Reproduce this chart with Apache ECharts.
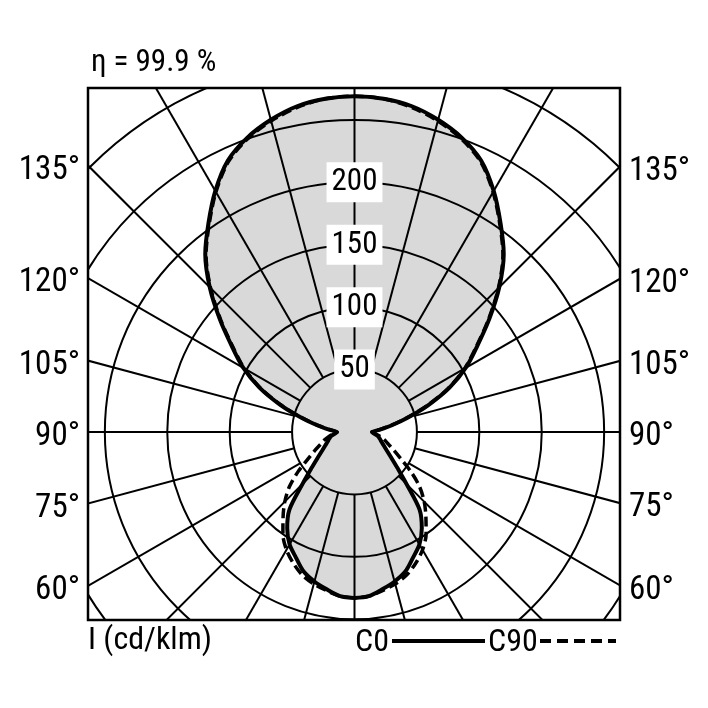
<!DOCTYPE html>
<html><head><meta charset="utf-8">
<script src="https://cdn.jsdelivr.net/npm/echarts@6/dist/echarts.min.js"></script>
<style>html,body{margin:0;padding:0;background:#fff}#c{width:708px;height:708px}</style>
</head><body><div id="c"></div>
<script>
// ---- data (luminous intensity, cd/klm, gamma measured from nadir) ----
const gammaDeg = [0,5,10,15,20,25,30,35,40,45,50,55,60,65,70,75,80,85,90,95,100,105,110,115,120,125,130,135,140,145,150,155,160,165,170,175,180];
const c0Values  = [133,132,128,124,119,111,104,94,81,59,45,36,30,26,23,21,19,16,14,20,30,44,63,84,103,120,141,164,186,204,223,240,251,259,265,268,269];
const c90Values = [133,132,129,126,122,116,109,100,89,79,68,55,43,35,29,25,21,17,14,19,29,43,62,83,102,119,140,163,185,203,222,239,250,258,264,268,269];
const radialTicks = [50,100,150,200];
const gridCircles = [50,100,150,200,250,300,350,400,450];
const angleTickLabels = [60,75,90,105,120,135];
const efficiencyText = 'η = 99.9 %';
const unitText = 'I (cd/klm)';
const legendNames = ['C0','C90'];

const FONT = "'Liberation Sans Narrow','Roboto Condensed','DejaVu Sans Condensed','Arial Narrow',sans-serif";
const X_MIN = -213.5, X_MAX = 212.7, Y_MIN = -150.6, Y_MAX = 275.6;

function toXY(r, g, side) {
  const a = g * Math.PI / 180;
  return [side * r * Math.sin(a), -r * Math.cos(a)];
}
function loop(vals) {
  const pts = [];
  for (let i = 0; i < gammaDeg.length; i++) pts.push(toXY(vals[i], gammaDeg[i], -1));
  for (let i = gammaDeg.length - 2; i >= 0; i--) pts.push(toXY(vals[i], gammaDeg[i], 1));
  return pts;
}
const c0Loop = loop(c0Values);
const c90Loop = loop(c90Values);

const chart = echarts.init(document.getElementById('c'), null, {renderer: 'canvas'});
chart.setOption({
  animation: false,
  backgroundColor: '#fff',
  title: {
    text: efficiencyText, left: 86, top: 43,
    textStyle: {fontFamily: FONT, fontSize: 31, fontWeight: 'normal', color: '#000'}
  },
  grid: {left: 88, top: 88, width: 532, height: 532, show: true, borderColor: '#000', borderWidth: 2.5, backgroundColor: '#fff'},
  xAxis: {type: 'value', min: X_MIN, max: X_MAX, show: false},
  yAxis: {type: 'value', min: Y_MIN, max: Y_MAX, show: false},
  graphic: [
    {type: 'text', left: 88, top: 625, style: {text: unitText, fontFamily: FONT, fontSize: 32, fill: '#000'}},
    {type: 'text', x: 355, y: 643, style: {text: legendNames[0], fontFamily: FONT, fontSize: 32, fill: '#000', verticalAlign: 'middle', align: 'left'}},
    {type: 'line', shape: {x1: 392, y1: 641, x2: 485, y2: 641}, style: {stroke: '#000', lineWidth: 4}},
    {type: 'text', x: 488, y: 643, style: {text: legendNames[1], fontFamily: FONT, fontSize: 32, fill: '#000', verticalAlign: 'middle', align: 'left'}},
    {type: 'line', shape: {x1: 540, y1: 641, x2: 616, y2: 641}, style: {stroke: '#000', lineWidth: 4, lineDash: [11, 6]}}
  ],
  series: [
    { // fill of C0
      type: 'custom', z: 1, clip: true, data: [[0, 0]],
      renderItem: function (params, api) {
        return {type: 'polygon', shape: {points: c0Loop.map(p => api.coord(p)), smooth: 0.3},
                style: {fill: '#d9d9d9', stroke: 'none'}};
      }
    },
    { // polar grid
      type: 'custom', z: 2, clip: true, data: [[0, 0]],
      renderItem: function (params, api) {
        const c = api.coord([0, 0]);
        const children = [];
        gridCircles.forEach(R => {
          const p = api.coord([R, 0]);
          children.push({type: 'circle', shape: {cx: c[0], cy: c[1], r: p[0] - c[0]},
                         style: {fill: 'none', stroke: '#000', lineWidth: 2}});
        });
        for (let g = 0; g < 360; g += 15) {
          const p1 = api.coord(toXY(50, g, 1));
          const p2 = api.coord(toXY(700, g, 1));
          children.push({type: 'line', shape: {x1: p1[0], y1: p1[1], x2: p2[0], y2: p2[1]},
                         style: {stroke: '#000', lineWidth: 2}});
        }
        return {type: 'group', children: children};
      }
    },
    {
      name: legendNames[0], type: 'line', z: 3, data: c0Loop, smooth: 0.3, symbol: 'none',
      lineStyle: {color: '#000', width: 4}
    },
    {
      name: legendNames[1], type: 'line', z: 3, data: c90Loop, smooth: 0.3, symbol: 'none',
      lineStyle: {color: '#000', width: 3.5, type: [10, 5]}
    },
    { // radial value labels
      type: 'scatter', z: 4, symbolSize: 1, itemStyle: {color: 'rgba(0,0,0,0)', opacity: 1},
      data: radialTicks.map(v => [0, v]),
      label: {show: true, position: 'inside', formatter: p => String(p.value[1]),
              fontFamily: FONT, fontSize: 31, color: '#000', backgroundColor: '#fff',
              padding: [5, 5, 4, 5], lineHeight: 31, opacity: 1}
    },
    { // angle labels at the frame
      type: 'custom', z: 5, clip: false, data: [[0, 0]],
      renderItem: function (params, api) {
        const children = [];
        angleTickLabels.forEach(g => {
          const a = g * Math.PI / 180;
          const yl = Math.cos(a) * X_MIN / Math.sin(a);
          const yr = -Math.cos(a) * X_MAX / Math.sin(a);
          const pl = api.coord([X_MIN, yl]);
          const pr = api.coord([X_MAX, yr]);
          children.push({type: 'text', x: pl[0] - 8, y: pl[1] + 5,
            style: {text: g + '°', fontFamily: FONT, fontSize: 33, fill: '#000', align: 'right', verticalAlign: 'middle'}});
          children.push({type: 'text', x: pr[0] + 9, y: pr[1] + 5,
            style: {text: g + '°', fontFamily: FONT, fontSize: 33, fill: '#000', align: 'left', verticalAlign: 'middle'}});
        });
        return {type: 'group', children: children};
      }
    }
  ]
});
</script>
</body></html>
